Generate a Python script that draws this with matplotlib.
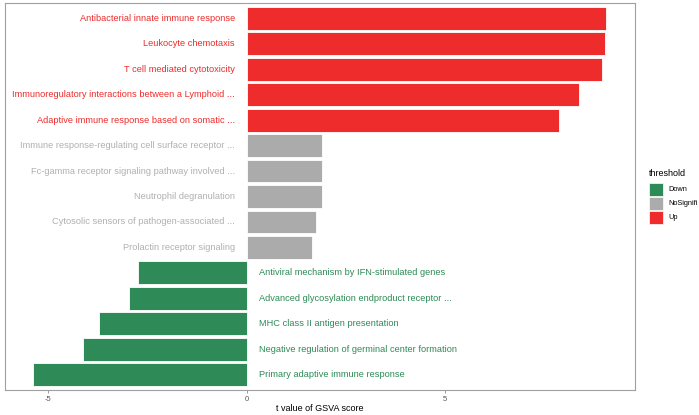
import matplotlib.pyplot as plt
from matplotlib.patches import Rectangle

plt.rcParams['font.family'] = ['Liberation Sans', 'DejaVu Sans']

# pathways listed from top to bottom
pathways = [
    "Antibacterial innate immune response",
    "Leukocyte chemotaxis",
    "T cell mediated cytotoxicity",
    "Immunoregulatory interactions between a Lymphoid ...",
    "Adaptive immune response based on somatic ...",
    "Immune response-regulating cell surface receptor ...",
    "Fc-gamma receptor signaling pathway involved ...",
    "Neutrophil degranulation",
    "Cytosolic sensors of pathogen-associated ...",
    "Prolactin receptor signaling",
    "Antiviral mechanism by IFN-stimulated genes",
    "Advanced glycosylation endproduct receptor ...",
    "MHC class II antigen presentation",
    "Negative regulation of germinal center formation",
    "Primary adaptive immune response",
]
t_values = [9.07, 9.04, 8.97, 8.39, 7.88,
            1.91, 1.91, 1.90, 1.74, 1.65,
            -2.74, -2.98, -3.72, -4.13, -5.38]
threshold = ["Up"] * 5 + ["NoSignifi"] * 5 + ["Down"] * 5
legend_levels = ["Down", "NoSignifi", "Up"]

bar_col = {"Up": "#EE2C2C", "NoSignifi": "#ABABAB", "Down": "#2E8B57"}
txt_col = {"Up": "#EE2C2C", "NoSignifi": "#B0B0B0", "Down": "#2E8B57"}

W, H = 699, 415
fig = plt.figure(figsize=(W / 100, H / 100), dpi=100)
ax = fig.add_axes([0.007, 0.06, 0.901, 0.933])

n = len(pathways)
ypos = [n - 1 - i for i in range(n)]
ax.barh(ypos, t_values, height=0.9,
        color=[bar_col[t] for t in threshold],
        edgecolor="white", linewidth=0.6)

for y, v, lab, th in zip(ypos, t_values, pathways, threshold):
    if v > 0:
        ax.text(-0.3, y, lab, ha="right", va="center", fontsize=6.7,
                color=txt_col[th])
    else:
        ax.text(0.3, y, lab, ha="left", va="center", fontsize=6.7,
                color=txt_col[th])

ax.set_xlim(-6.1, 9.79)
ax.set_ylim(-0.6, n - 0.4)
ax.set_yticks([])
ax.set_xticks([-5, 0, 5])
ax.set_xticklabels(["-5", "0", "5"])
ax.tick_params(axis="x", length=2.5, width=0.6, colors="#888888",
               labelsize=5.5, pad=1.5, labelcolor="#555555")
for s in ax.spines.values():
    s.set_color("#A0A0A0")
    s.set_linewidth(0.8)
ax.set_xlabel("t value of GSVA score", fontsize=6.5, labelpad=1)

# legend drawn by hand (ggplot style), in pixel coords of the figure
fig.text(649 / W, 1 - 173 / H, "threshold", fontsize=6.5,
         ha="left", va="center")
for i, lev in enumerate(legend_levels):
    top = 183 + i * 14
    fig.add_artist(Rectangle((649 / W, 1 - (top + 13) / H), 14 / W, 13 / H,
                             transform=fig.transFigure,
                             facecolor=bar_col[lev], edgecolor="white",
                             linewidth=0.5))
    fig.text(668 / W, 1 - (top + 6.5) / H, lev, fontsize=5.3,
             ha="left", va="center")

fig.savefig("out.png", dpi=100)
